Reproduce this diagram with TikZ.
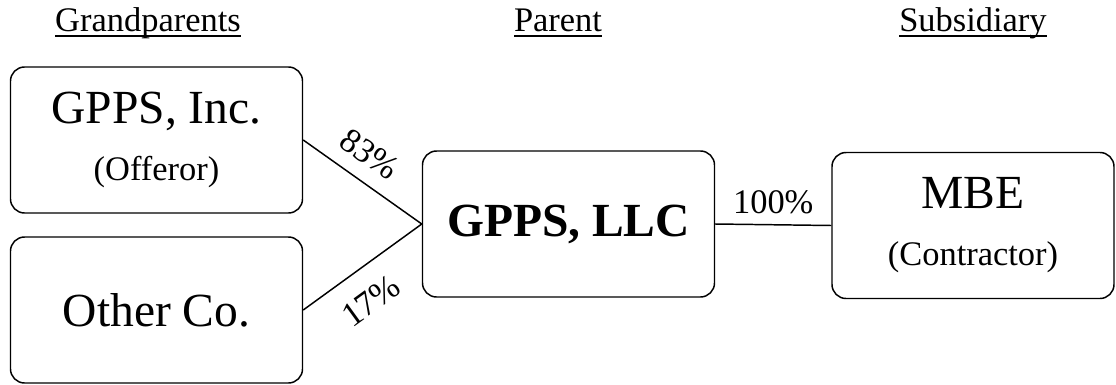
\documentclass[tikz,border=0pt]{standalone}
\usepackage{fontspec}
\setmainfont{Liberation Serif}
\usepackage{tikz}

\newcommand{\bigsize}{\fontsize{33.8}{40.5}\selectfont}
\newcommand{\smallsize}{\fontsize{24.5}{29.4}\selectfont}
% underline that runs through the descenders
\newcommand{\ulhead}[1]{\setbox0=\hbox{#1}\rlap{\rule[-4pt]{\wd0}{0.9pt}}\box0}

\tikzset{
  company/.style={draw, line width=1.05pt, rounded corners=10pt,
    minimum width=7.3cm, minimum height=3.65cm, align=center,
    font=\bigsize, inner sep=0pt},
  heading/.style={anchor=base, font=\smallsize},
  share/.style={font=\smallsize, sloped},
  link/.style={line width=1.05pt}
}

\begin{document}
\begin{tikzpicture}
  \useasboundingbox (0,0) rectangle (27.9,9.6);

  % column headings
  \node[heading] (hgrand) at (3.7,8.825) {\ulhead{Grandparents}};
  \node[heading] (hparent) at (13.95,8.825) {\ulhead{Parent}};
  \node[heading] (hsub) at (24.325,8.825) {\ulhead{Subsidiary}};

  % companies
  \node[company] (inc) at (3.9125,6.1) {GPPS, Inc.\\{\smallsize (Offeror)}};
  \node[company] (other) at (3.9125,1.85) {Other Co.};
  \node[company, font=\bigsize\bfseries] (llc) at (14.2125,4.0) {GPPS, LLC};
  \node[company, minimum width=7.05cm] (mbe) at (24.325,3.9625) {MBE\\{\smallsize (Contractor)}};

  % ownership shares
  \draw[link] (inc.east) -- (llc.west) node[share, pos=0.43, above=7pt] {83\%};
  \draw[link] (other.east) -- (llc.west) node[share, pos=0.41, below=11pt] {17\%};
  \draw[link] (llc.east) -- (mbe.west) node[midway, above=4pt, font=\smallsize] {100\%};
\end{tikzpicture}
\end{document}
